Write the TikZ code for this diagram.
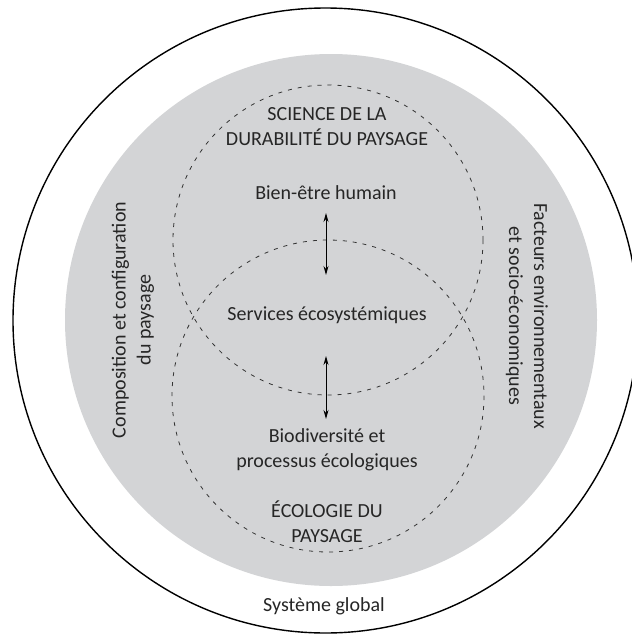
\documentclass[tikz,border=0pt]{standalone}
\usepackage{fontspec}
\setmainfont{Carlito}
\usetikzlibrary{arrows.meta}
\definecolor{discgray}{RGB}{211,212,214}
\begin{document}
\begin{tikzpicture}[x=1pt,y=-1pt,
  lbl/.style={font=\fontsize{20}{25}\selectfont, align=center, inner sep=0pt, text=black!85},
  zone/.style={draw=black!80, dash pattern=on 4pt off 6pt, line width=0.8pt},
  link/.style={line width=0.9pt, {Stealth[length=9pt,width=5pt]}-{Stealth[length=9pt,width=5pt]}}]
\useasboundingbox (0,0) rectangle (632,635);
\clip (0,0) rectangle (632,635);
\draw[line width=1.4pt, fill=white] (325.5,320.5) circle[radius=312.5];
\fill[discgray] (331,320) circle[radius=266];
\draw[zone] (328,240) circle[radius=155];
\draw[zone] (328,396) circle[radius=156];
\node[lbl] (sci) at (327,127) {SCIENCE DE LA\\DURABILITÉ DU PAYSAGE};
\node[lbl] (bien) at (326,193) {Bien-être humain};
\node[lbl] (serv) at (327,315) {Services écosystémiques};
\node[lbl] (bio) at (327,450) {Biodiversité et\\processus écologiques};
\node[lbl] (eco) at (327,522) {ÉCOLOGIE DU\\PAYSAGE};
\node[lbl] (glob) at (324,606) {Système global};
\node[lbl, rotate=90] (comp) at (133,320) {Composition et configuration\\du paysage};
\node[lbl, rotate=-90] (fact) at (527,316) {Facteurs environnementaux\\et socio-économiques};
\coordinate (a1t) at (326,213);
\coordinate (a1b) at (326,275);
\coordinate (a2t) at (326,356);
\coordinate (a2b) at (326,419);
\draw[link] (a1t) -- (a1b);
\draw[link] (a2t) -- (a2b);
\end{tikzpicture}
\end{document}
